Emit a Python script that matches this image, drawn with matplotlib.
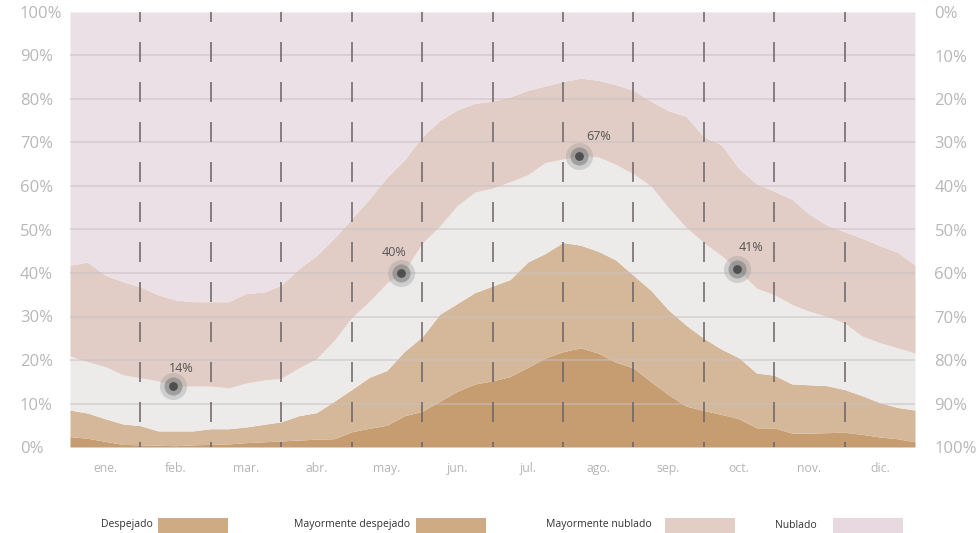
import numpy as np
import matplotlib
matplotlib.use('Agg')
import matplotlib.pyplot as plt

plt.rcParams['font.family'] = ['Open Sans', 'DejaVu Sans']
plt.rcParams['lines.scale_dashes'] = False

# sample positions in months (0 = 1 ene, 12 = 31 dic)
month_pos = np.arange(0, 12.01, 0.25)

# cumulative tops of each band, in %
despejado = [2.4, 2.0, 1.3, 0.6, 0.5, 0.4, 0.3, 0.5, 0.6, 0.7, 1.0, 1.2, 1.4,
             1.6, 1.8, 1.9, 3.5, 4.3, 5.0, 7.2, 8.2, 10.5, 12.8, 14.5, 15.2,
             16.2, 18.3, 20.5, 21.9, 22.8, 21.6, 19.5, 18.2, 15.0, 12.0, 9.4,
             8.4, 7.5, 6.5, 4.4, 4.4, 3.2, 3.2, 3.3, 3.4, 2.9, 2.3, 1.9, 1.2]
may_despejado = [8.5, 7.8, 6.5, 5.3, 4.9, 3.7, 3.7, 3.7, 4.2, 4.2, 4.6, 5.2,
                 5.8, 7.2, 7.9, 10.5, 13.2, 16.0, 17.6, 22.0, 25.3, 30.5, 33.0,
                 35.5, 37.0, 38.5, 42.5, 44.5, 47.0, 46.4, 45.0, 43.0, 39.5,
                 36.0, 31.5, 28.0, 25.0, 22.5, 20.5, 17.0, 16.5, 14.5, 14.3,
                 14.1, 13.2, 11.8, 10.2, 9.1, 8.5]
parc_nublado = [20.9, 19.6, 18.5, 16.6, 15.9, 15.2, 14.0, 14.0, 14.0, 13.6,
                14.7, 15.4, 15.8, 18.2, 20.3, 24.5, 29.7, 33.5, 37.7, 40.5,
                46.8, 50.8, 55.5, 58.6, 59.5, 61.0, 62.6, 65.4, 66.2, 67.0,
                66.7, 65.0, 62.8, 60.0, 55.0, 50.5, 47.0, 44.0, 40.5, 36.5,
                35.0, 32.8, 31.2, 30.0, 28.5, 25.5, 24.0, 22.8, 21.6]
may_nublado = [41.8, 42.5, 39.5, 38.0, 36.8, 35.0, 33.8, 33.4, 33.4, 33.4,
               35.3, 35.6, 37.2, 41.0, 44.0, 48.0, 52.5, 57.0, 62.0, 66.0,
               71.3, 75.0, 77.5, 79.0, 79.5, 80.5, 82.0, 83.0, 84.0, 84.8,
               84.3, 83.3, 82.0, 79.5, 77.3, 76.0, 71.3, 69.5, 64.0, 60.5,
               58.8, 57.0, 53.5, 51.0, 49.5, 48.0, 46.3, 44.8, 41.8]

months = ['ene.', 'feb.', 'mar.', 'abr.', 'may.', 'jun.', 'jul.', 'ago.',
          'sep.', 'oct.', 'nov.', 'dic.']

mark_pos = [1.46, 4.70, 7.23, 9.47]
mark_val = [14, 40, 67, 41]

legend_labels = ['Despejado', 'Mayormente despejado', 'Mayormente nublado', 'Nublado']

fig = plt.figure(figsize=(9.8, 5.33), dpi=100)
ax = fig.add_axes([70/980, 86/533, 845/980, 435/533])

c_desp = '#c59d70'
c_mdesp = '#d4b899'
c_parc = '#ecebea'
c_mnub = '#e1cdc5'
c_nub = '#ebe0e6'

ax.fill_between(month_pos, 0, despejado, color=c_desp, lw=0, zorder=1)
ax.fill_between(month_pos, despejado, may_despejado, color=c_mdesp, lw=0, zorder=1)
ax.fill_between(month_pos, may_despejado, parc_nublado, color=c_parc, lw=0, zorder=1)
ax.fill_between(month_pos, parc_nublado, may_nublado, color=c_mnub, lw=0, zorder=1)
ax.fill_between(month_pos, may_nublado, 100, color=c_nub, lw=0, zorder=1)

for v in range(10, 100, 10):
    ax.axhline(v, color='#c9c0c5', lw=1.1, alpha=0.65, zorder=2)

for m in range(1, 12):
    ax.plot([m, m], [100, 0], color='#6b6266', lw=1.1,
            linestyle=(7.2, (14.4, 14.4)), zorder=3)

for mp, mv, dx, dy in zip(mark_pos, mark_val, [6, -5, 14, 10], [13, 15, 14, 15]):
    ax.scatter([mp], [mv], s=380, color='#9a9a9a', alpha=0.35, lw=0, zorder=5)
    ax.scatter([mp], [mv], s=170, color='#808080', alpha=0.6, lw=0, zorder=6)
    ax.scatter([mp], [mv], s=40, color='#4f4f4f', lw=0, zorder=7)
    ax.annotate(f'{mv}%', (mp, mv), xytext=(dx, dy), textcoords='offset points',
                ha='center', va='center', fontsize=9, color='#555555', zorder=8)

ax.set_xlim(0, 12)
ax.set_ylim(0, 100)
for s in ax.spines.values():
    s.set_visible(False)

ax.set_xticks(np.arange(12) + 0.5)
ax.set_xticklabels(months)
ax.tick_params(axis='x', length=0, pad=11, labelsize=8.8, labelcolor='#b5b5b5')

yt = np.arange(0, 101, 10)
ax.set_yticks(yt)
ax.set_yticklabels([f'{v}%' for v in yt])
ax.tick_params(axis='y', length=0, pad=36, labelsize=12, labelcolor='#b8b8b8')
for lbl in ax.get_yticklabels():
    lbl.set_horizontalalignment('left')

ax2 = ax.twinx()
ax2.set_ylim(100, 0)
ax2.set_yticks(yt)
ax2.set_yticklabels([f'{v}%' for v in yt])
ax2.tick_params(axis='y', length=0, pad=14, labelsize=12, labelcolor='#b8b8b8')
for s in ax2.spines.values():
    s.set_visible(False)

# legend row
leg_colors = ['#cfab84', '#cfab84', '#e3cec6', '#e7d9df']
text_right = [153, 410, 652, 817]
sw_left = [158, 416, 665, 833]
for lab, col, tr, sl in zip(legend_labels, leg_colors, text_right, sw_left):
    fig.text(tr/980, 8/533, lab, ha='right', va='center', fontsize=7.5, color='#333333')
    fig.patches.append(plt.Rectangle((sl/980, 0), 70/980, 15/533,
                                     transform=fig.transFigure, color=col, lw=0))

fig.savefig('out.png', dpi=100)
